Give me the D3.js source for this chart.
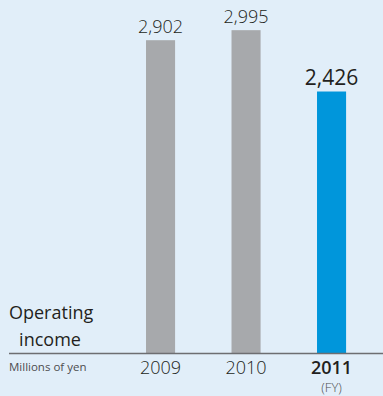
<!DOCTYPE html>
<html>
<head>
<meta charset="utf-8">
<script src="https://cdn.jsdelivr.net/npm/d3@7"></script>
<style>
  html, body { margin: 0; padding: 0; background: #e1eef9; }
  svg { display: block; font-family: "Open Sans", "Noto Sans", sans-serif; }
</style>
</head>
<body>
<svg id="chart" width="383" height="396"></svg>
<script>
// Operating income by fiscal year (millions of yen)
const years = ["2009", "2010", "2011"];
const values = [2902, 2995, 2426];
const highlight = "2011";

const W = 383, H = 396;
const baseY = 353;

const svg = d3.select("#chart");
svg.append("rect").attr("width", W).attr("height", H).attr("fill", "#e1eef9");

const x = d3.scaleBand()
  .domain(years)
  .range([117.8, 374.3])
  .paddingInner(0.66)
  .paddingOuter(0.33);

const y = d3.scaleLinear()
  .domain([0, 3275])
  .range([baseY, 0]);

// bars
svg.selectAll("rect.bar")
  .data(years)
  .join("rect")
  .attr("class", "bar")
  .attr("x", d => x(d))
  .attr("width", x.bandwidth())
  .attr("y", (d, i) => y(values[i]))
  .attr("height", (d, i) => baseY - y(values[i]))
  .attr("fill", d => d === highlight ? "#0096db" : "#a7a9ac");

// value labels
svg.selectAll("text.val")
  .data(years)
  .join("text")
  .attr("class", "val")
  .attr("x", d => x(d) + x.bandwidth() / 2)
  .attr("y", (d, i) => y(values[i]) - 7)
  .attr("text-anchor", "middle")
  .attr("font-size", d => d === highlight ? 21 : 18)
  .attr("font-weight", d => d === highlight ? 400 : 300)
  .attr("fill", "#231f20")
  .text((d, i) => d3.format(",")(values[i]));

// baseline
svg.append("line")
  .attr("x1", 9).attr("x2", W)
  .attr("y1", baseY + 0.5).attr("y2", baseY + 0.5)
  .attr("stroke", "#6d6e71")
  .attr("stroke-width", 1.5);

// x axis labels
const xAxis = d3.axisBottom(x).tickSize(0).tickPadding(0);
const gx = svg.append("g").attr("transform", `translate(0,${baseY})`).call(xAxis);
gx.select(".domain").remove();
gx.selectAll("text")
  .attr("y", 21)
  .attr("dy", 0)
  .attr("font-family", "'Open Sans', sans-serif")
  .attr("font-size", 18)
  .attr("font-weight", d => d === highlight ? 600 : 300)
  .attr("fill", "#231f20");

svg.append("text")
  .attr("x", x(highlight) + x.bandwidth() / 2)
  .attr("y", 392)
  .attr("text-anchor", "middle")
  .attr("font-size", 13)
  .attr("font-weight", 300)
  .attr("fill", "#4d4d4f")
  .text("(FY)");

// title
svg.append("text")
  .attr("x", 9).attr("y", 319)
  .attr("font-size", 18)
  .attr("fill", "#231f20")
  .text("Operating");
svg.append("text")
  .attr("x", 50).attr("y", 346)
  .attr("text-anchor", "middle")
  .attr("font-size", 18)
  .attr("fill", "#231f20")
  .text("income");

svg.append("text")
  .attr("x", 9).attr("y", 371)
  .attr("font-size", 11.5)
  .attr("fill", "#4d4d4f")
  .text("Millions of yen");
</script>
</body>
</html>
